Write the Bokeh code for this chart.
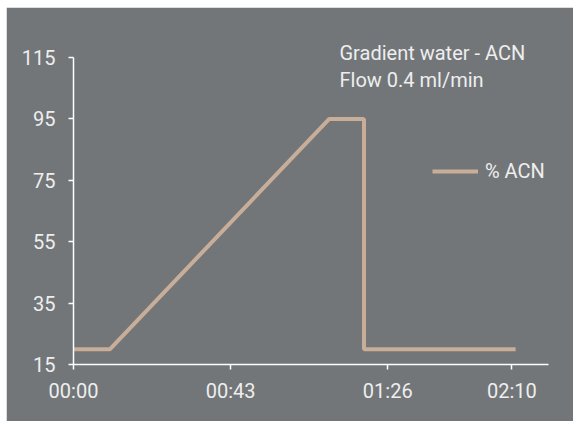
from bokeh.plotting import figure
from bokeh.models import FixedTicker, Label, Legend, LegendItem, Range1d
from bokeh.embed import file_html
from bokeh.resources import INLINE

time_s = [0, 10, 70, 79.5, 79.5, 121]
acn_pct = [20, 20, 95, 95, 20, 20]
x_ticks = [0, 43, 86, 120]
x_tick_labels = ["00:00", "00:43", "01:26", "02:10"]
y_ticks = [15, 35, 55, 75, 95, 115]

BG = "#727679"
LINE = "#c8ad99"
TXT = "#eeeeee"
FONT = "Roboto"
FS = "20px"

p = figure(width=567, height=414, output_backend="svg", toolbar_location=None,
           x_range=Range1d(0, 130), y_range=Range1d(15, 125.42),
           min_border_left=67, min_border_right=25, min_border_top=18, min_border_bottom=57)
p.margin = (7, 0, 0, 6)
p.background_fill_color = BG
p.border_fill_color = BG
p.outline_line_color = BG
p.outline_line_width = 2
p.xgrid.visible = False
p.ygrid.visible = False

r = p.line(time_s, acn_pct, line_color=LINE, line_width=4)

for ax in (p.xaxis[0], p.yaxis[0]):
    ax.axis_line_color = "white"
    ax.axis_line_width = 1.5
    ax.major_tick_line_color = "white"
    ax.major_tick_line_width = 1.5
    ax.major_tick_out = 5
    ax.major_tick_in = 0
    ax.minor_tick_line_color = None
    ax.major_label_text_color = TXT
    ax.major_label_text_font = FONT
    ax.major_label_text_font_size = FS

p.xaxis.major_label_standoff = 9
p.yaxis.major_label_standoff = 13
p.xaxis.bounds = (0, 130)
p.yaxis.bounds = (15, 115)
p.xaxis.ticker = FixedTicker(ticks=x_ticks)
p.xaxis.major_label_overrides = {t: l for t, l in zip(x_ticks, x_tick_labels)}
p.yaxis.ticker = FixedTicker(ticks=y_ticks)

legend = Legend(items=[LegendItem(label="% ACN", renderers=[r])], location=(359, 181),
                padding=0, margin=0, border_line_color=None, background_fill_alpha=0,
                glyph_width=46, glyph_height=24, label_standoff=7,
                label_text_color=TXT, label_text_font=FONT, label_text_font_size=FS)
p.add_layout(legend)

p.add_layout(Label(x=72.8, y=116.3, text="Gradient water - ACN", text_color=TXT,
                   text_font=FONT, text_font_size=FS, text_baseline="alphabetic"))
p.add_layout(Label(x=72.8, y=107.8, text="Flow 0.4 ml/min", text_color=TXT,
                   text_font=FONT, text_font_size=FS, text_baseline="alphabetic"))

open("out.html", "w").write(file_html(p, INLINE))
